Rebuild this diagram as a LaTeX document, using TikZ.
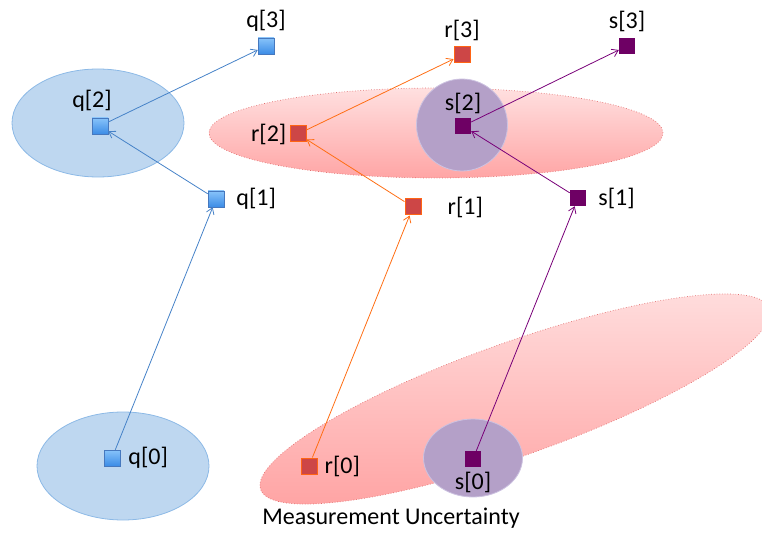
\documentclass[tikz,border=0pt]{standalone}
\usepackage{fontspec}
\setmainfont{Carlito}
\usetikzlibrary{arrows.meta,positioning,shapes.geometric}

\definecolor{qline}{RGB}{70,130,200}
\definecolor{qtop}{RGB}{135,195,250}
\definecolor{qbot}{RGB}{60,140,230}
\definecolor{qedge}{RGB}{70,120,190}
\definecolor{qcl}{RGB}{190,215,240}
\definecolor{qcledge}{RGB}{140,185,230}
\definecolor{rline}{RGB}{255,110,20}
\definecolor{rfill}{RGB}{205,70,70}
\definecolor{redge}{RGB}{255,100,20}
\definecolor{rtop}{RGB}{255,224,224}
\definecolor{rbot}{RGB}{255,165,165}
\definecolor{rcledge}{RGB}{225,110,110}
\definecolor{sline}{RGB}{120,0,120}
\definecolor{sfill}{RGB}{110,0,100}
\definecolor{scl}{RGB}{180,160,200}
\definecolor{scledge}{RGB}{205,195,225}

\tikzset{
  box/.style={rectangle, minimum size=16pt, inner sep=0pt},
  qbox/.style={box, draw=qedge, top color=qtop, bottom color=qbot},
  rbox/.style={box, draw=redge, line width=1pt, fill=rfill},
  sbox/.style={box, fill=sfill},
  lbl/.style={font=\fontsize{24}{26}\selectfont, inner sep=0pt},
  qcloud/.style={ellipse, draw=qcledge, fill=qcl, line width=0.8pt, inner sep=0pt},
  rcloud/.style={ellipse, draw=rcledge, dotted, line width=0.7pt, top color=rtop, bottom color=rbot, inner sep=0pt},
  scloud/.style={ellipse, draw=scledge, fill=scl, line width=0.8pt, inner sep=0pt},
  link/.style={-{Straight Barb[length=6pt,width=8pt]}, line width=0.8pt}
}

\begin{document}
\begin{tikzpicture}[x=1pt,y=-1pt,node distance=6pt]
  \useasboundingbox (0,0) rectangle (762,534);

  % uncertainty clouds
  \node[qcloud, minimum width=172pt, minimum height=108pt] (q2cl) at (98,123) {};
  \node[qcloud, minimum width=172pt, minimum height=108pt] (q0cl) at (123,466) {};
  \node[rcloud, minimum width=454pt, minimum height=90pt] (r2cl) at (436,133) {};
  \node[rcloud, minimum width=540pt, minimum height=113pt, rotate=19.6] (r0cl) at (515,399) {};
  \node[scloud, minimum width=91pt, minimum height=92pt] (s2cl) at (462,125) {};
  \node[scloud, minimum width=99pt, minimum height=78pt] (s0cl) at (473,458) {};

  % states
  \node[qbox] (q0) at (112,458) {};
  \node[qbox] (q1) at (216,199) {};
  \node[qbox] (q2) at (100,126) {};
  \node[qbox] (q3) at (266,46) {};

  \node[rbox] (r0) at (309,466) {};
  \node[rbox] (r1) at (413,207) {};
  \node[rbox] (r2) at (298,134) {};
  \node[rbox] (r3) at (462,55) {};

  \node[sbox] (s0) at (473,459) {};
  \node[sbox] (s1) at (578,198) {};
  \node[sbox] (s2) at (463,126) {};
  \node[sbox] (s3) at (627,46) {};

  % labels
  \node[lbl, above=6pt of q3] {q[3]};
  \node[lbl, above=6pt of q2, xshift=-8pt] {q[2]};
  \node[lbl, right=12pt of q1] {q[1]};
  \node[lbl, right=8pt of q0] {q[0]};
  \node[lbl, above=6pt of r3] {r[3]};
  \node[lbl, left=3pt of r2] {r[2]};
  \node[lbl, right=26pt of r1] {r[1]};
  \node[lbl, right=7pt of r0] {r[0]};
  \node[lbl, above=6pt of s3] {s[3]};
  \node[lbl, above=4pt of s2] {s[2]};
  \node[lbl, right=12pt of s1] {s[1]};
  \node[lbl, below=5pt of s0] {s[0]};
  \node[lbl] (mu) at (391,518) {Measurement Uncertainty};

  % transitions
  \path[link, draw=qline]
    (q0) edge (q1)
    (q1) edge (q2)
    (q2) edge (q3);
  \path[link, draw=rline]
    (r0) edge (r1)
    (r1) edge (r2)
    (r2) edge (r3);
  \path[link, draw=sline]
    (s0) edge (s1)
    (s1) edge (s2)
    (s2) edge (s3);
\end{tikzpicture}
\end{document}
